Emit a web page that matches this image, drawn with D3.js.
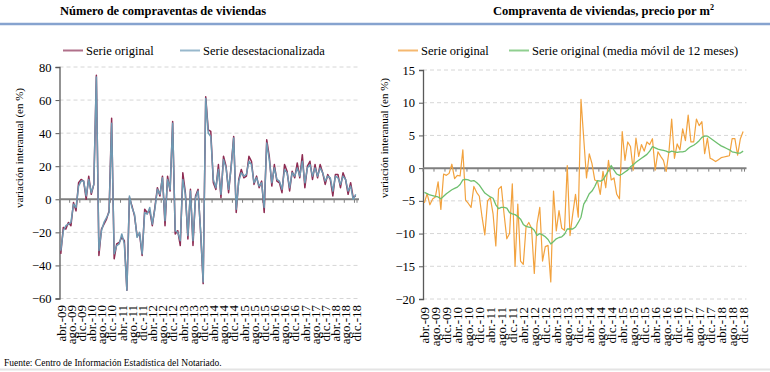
<!DOCTYPE html>
<html><head><meta charset="utf-8">
<script src="https://cdn.jsdelivr.net/npm/d3@7/dist/d3.min.js"></script>
<style>
body{margin:0;background:#fff}
svg{display:block}
svg text{font-family:"Liberation Serif","Times New Roman",serif !important;fill:#000}
</style>
</head><body>
<svg id="c" width="770" height="372" font-family="Liberation Serif"></svg>
<script>
const monthNames = ["ene.","feb.","mar.","abr.","may.","jun.","jul.","ago.","sep.","oct.","nov.","dic."];
const categories = [];
for (let y = 2009; y <= 2018; y++) for (let m = 0; m < 12; m++) {
  if (y === 2009 && m < 3) continue;
  categories.push(monthNames[m] + "-" + String(y).slice(2));
}
const leftTicks = [-60,-40,-20,0,20,40,60,80];
const rightTicks = [-20,-15,-10,-5,0,5,10,15];

const compOriginal = [-33,-17,-18,-14,-16,-2,-7,10,12,11,
 0,14,3,9,75,-34,-18,-15,-12,-7,
 49,-36,-27,-26,-23,-25,-55,1,-4,-10,
 -22,-21,-34,-6,-8,-7,-16,-5,7,2,
 14,-16,14,5,47,-21,-19,-28,16,4,
 -24,6,-28,2,6,-20,-51,62,42,41,
 10,6,21,1,26,20,4,20,38,-8,
 12,18,13,14,26,23,9,14,7,11,
 -8,36,26,8,21,11,10,4,21,17,
 5,17,13,22,13,27,7,20,23,12,
 21,13,21,16,9,15,12,2,15,15,
 7,16,12,3,10,1,2];
const compDesest = [-31,-19,-16,-15,-14,-3,-5,8,11,11,
 2,12,4,9,74,-31,-19,-14,-11,-8,
 46,-33,-28,-27,-21,-27,-55,2,-5,-9,
 -23,-20,-33,-8,-9,-5,-15,-6,6,3,
 13,-13,12,6,46,-19,-20,-25,12,3,
 -22,5,-25,1,5,-19,-50,61,40,38,
 12,7,18,3,24,19,6,19,37,-6,
 11,16,14,15,23,21,10,13,8,10,
 -5,34,24,10,19,12,11,6,18,16,
 7,16,14,19,14,23,10,19,21,14,
 19,14,19,16,11,14,13,5,14,13,
 9,14,12,5,8,0,3];
const precioOriginal = [-5.3,-3.9,-5.6,-4.7,-4.4,-2.1,-6.3,-0.9,-1.1,-0.8,
 0.6,-1.6,-1.1,-1.2,2.8,-4.9,-5.4,-6.0,-2.8,-3.7,
 -4.3,-7.5,-10.2,-5.0,-4.5,-7.0,-11.9,-3.2,-2.8,-7.0,
 -10.8,-10.0,-2.4,-15.0,-5.5,-14.2,-14.7,-9.0,-8.3,-9.2,
 -16.1,-8.5,-6.0,-14.2,-12.0,-11.8,-17.4,-3.5,-9.6,-6.5,
 -9.2,-9.5,0.4,-10.3,-7.0,-4.0,-7.5,10.5,4.5,-1.5,
 2.2,0.7,-1.8,-2.0,-4.0,-0.5,-3.0,1.2,-1.8,-1.5,
 -4.0,-4.7,5.6,1.2,4.0,3.3,-0.3,4.6,1.8,3.6,
 2.6,4.0,3.6,4.5,-0.3,2.5,1.8,1.2,-0.5,2.5,
 7.5,1.5,3.7,2.8,6.0,4.2,8.1,4.0,4.0,7.5,
 6.5,7.1,2.2,4.6,1.5,1.3,1.0,1.3,1.6,1.7,
 1.8,1.9,4.5,4.5,2.0,4.5,5.6];
const precioMedia = [-3.7,-3.9,-4.1,-4.2,-4.3,-4.4,-4.7,-4.3,-3.9,-3.6,
 -3.3,-3.1,-2.9,-2.5,-1.8,-1.7,-1.8,-2.0,-1.9,-2.2,
 -2.6,-3.2,-3.8,-4.1,-4.4,-4.6,-5.6,-6.2,-6.0,-6.0,
 -6.1,-6.8,-7.0,-7.1,-7.4,-7.8,-8.6,-8.9,-9.0,-9.1,
 -9.5,-10.3,-10.0,-10.2,-10.5,-10.9,-11.6,-11.2,-10.8,-10.6,
 -10.5,-10.1,-9.3,-9.3,-9.3,-9.0,-8.3,-7.5,-5.5,-4.8,
 -3.9,-3.5,-2.8,-1.9,-2.0,-1.8,-1.1,-0.4,0.4,-0.3,
 -0.9,-1.1,-0.9,-0.6,-0.3,0.2,0.5,0.9,1.2,1.5,
 1.8,2.1,2.6,3.3,3.1,2.9,2.8,2.7,2.6,2.4,
 2.6,2.5,2.4,2.5,2.5,2.6,3.0,3.3,3.5,3.8,
 4.2,4.7,4.9,4.9,4.6,4.3,4.0,3.7,3.4,3.2,
 3.0,2.8,2.5,2.4,2.3,2.3,2.6];

const FONT = '"Liberation Serif", "Times New Roman", serif';
const svg = d3.select("#c");

// header separator and footer
svg.append("line").attr("x1",0).attr("x2",770).attr("y1",24).attr("y2",24)
  .attr("stroke","#86a3cf").attr("stroke-width",2.5);
svg.append("line").attr("x1",0).attr("x2",770).attr("y1",369.5).attr("y2",369.5)
  .attr("stroke","#e4e4e4").attr("stroke-width",2);
svg.append("text").attr("x",4).attr("y",366).attr("font-size",9.5).style("font-family",FONT)
  .text("Fuente: Centro de Información Estadística del Notariado.");

function panel(cfg){
  const g = svg.append("g");
  const x = d3.scaleBand().domain(categories).range([cfg.x0, cfg.x1]);
  const y = d3.scaleLinear().domain(cfg.domain).range([cfg.yb, cfg.yt]);
  const cx = c => x(c) + x.bandwidth()/2;
  // title
  const t = g.append("text").attr("x", cfg.titleX).attr("y",15).attr("font-size",12.5)
    .attr("font-weight","bold").style("font-family",FONT);
  t.text(cfg.title);
  if (cfg.sup) t.append("tspan").attr("font-size",8).attr("dy",-5).text(cfg.sup);
  // grid
  g.append("g").selectAll("line").data(cfg.ticks.filter(d => d !== 0)).join("line")
    .attr("x1", cfg.x0).attr("x2", cfg.x1 + 2)
    .attr("y1", d => y(d)).attr("y2", d => y(d))
    .attr("stroke","#d6d6d6").attr("stroke-dasharray","4,3").attr("stroke-width",1);
  // y axis
  const ya = g.append("g").attr("transform",`translate(${cfg.x0},0)`)
    .call(d3.axisLeft(y).tickValues(cfg.ticks).tickSize(4).tickPadding(4).tickFormat(d3.format("d")));
  ya.attr("font-family", null);
  ya.select(".domain").attr("stroke","#595959").attr("stroke-width",1.3);
  ya.selectAll(".tick line").attr("stroke","#595959");
  ya.selectAll(".tick text").attr("font-size",12.5).style("font-family",FONT).attr("fill","#000");
  // zero line with ticks
  g.append("line").attr("x1",cfg.x0).attr("x2",cfg.x1+2).attr("y1",y(0)).attr("y2",y(0))
    .attr("stroke","#7f7f7f").attr("stroke-width",2);
  const tickCats = categories.filter((c,i) => i % 4 === 0);
  g.append("g").selectAll("line").data(tickCats).join("line")
    .attr("x1", c => x(c)).attr("x2", c => x(c))
    .attr("y1", y(0)).attr("y2", y(0)+3.5)
    .attr("stroke","#7f7f7f").attr("stroke-width",1);
  g.append("line").attr("x1",cfg.x1).attr("x2",cfg.x1).attr("y1", y(0)).attr("y2", y(0)+3.5)
    .attr("stroke","#7f7f7f").attr("stroke-width",1);
  // x labels
  g.append("g").selectAll("text").data(tickCats).join("text")
    .attr("transform", c => `translate(${cx(c)+0.5},${cfg.labelY}) rotate(-90)`)
    .attr("text-anchor","end").attr("dy","0.33em").attr("font-size",13).style("font-family",FONT)
    .text(c => c);
  // y axis title
  g.append("text").attr("transform",`translate(${cfg.axTitleX},${cfg.axTitleY}) rotate(-90)`)
    .attr("text-anchor","middle").attr("font-size",11).style("font-family",FONT)
    .text("variación interanual (en %)");
  // series
  const line = vals => d3.line().x((d,i) => cx(categories[i])).y(d => y(d))(vals);
  cfg.series.forEach(s => {
    g.append("path").attr("d", line(s.values)).attr("fill","none")
      .attr("stroke", s.color).attr("stroke-width", s.width).attr("stroke-linejoin","round");
  });
  // legend
  cfg.legend.forEach(l => {
    g.append("line").attr("x1", l.x).attr("x2", l.x + 20).attr("y1", 50.5).attr("y2", 50.5)
      .attr("stroke", l.color).attr("stroke-width", 2);
    g.append("text").attr("x", l.x + 23).attr("y", 54.5).attr("font-size",12.5)
      .style("font-family",FONT).text(l.label);
  });
}

panel({
  x0: 59.5, x1: 357, yt: 67, yb: 298.5, domain: [-60, 80], ticks: leftTicks,
  title: "Número de compraventas de viviendas", titleX: 60,
  labelY: 305, axTitleX: 23, axTitleY: 148,
  series: [
    {values: compOriginal, color: "#8e2b52", width: 1.5},
    {values: compDesest, color: "#6f9ab3", width: 1.5}
  ],
  legend: [
    {x: 63, label: "Serie original", color: "#b0708a"},
    {x: 180, label: "Serie desestacionalizada", color: "#98b8cc"}
  ]
});

panel({
  x0: 423, x1: 744.5, yt: 70, yb: 299, domain: [-20, 15], ticks: rightTicks,
  title: "Compraventa de viviendas, precio por m", sup: "2", titleX: 493,
  labelY: 307, axTitleX: 388, axTitleY: 138,
  series: [
    {values: precioOriginal, color: "#f2a23e", width: 1.2},
    {values: precioMedia, color: "#6dbf6e", width: 1.3}
  ],
  legend: [
    {x: 398, label: "Serie original", color: "#f5b870"},
    {x: 509, label: "Serie original (media móvil de 12 meses)", color: "#90cf90"}
  ]
});
</script>
</body></html>
